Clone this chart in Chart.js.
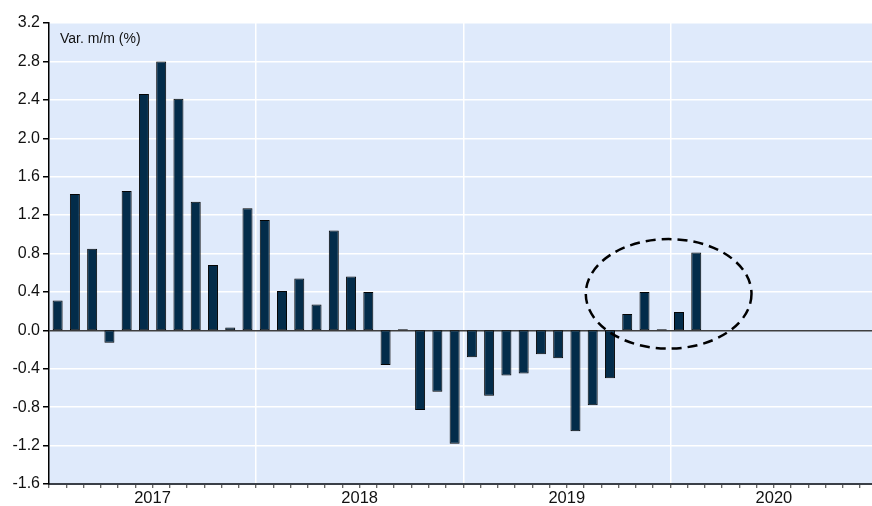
<!DOCTYPE html>
<html>
<head>
<meta charset="utf-8">
<script src="https://cdn.jsdelivr.net/npm/chart.js@4/dist/chart.umd.min.js"></script>
<style>
  html, body { margin: 0; padding: 0; background: #fff; overflow: hidden; }
  #wrap { width: 880px; height: 506px; position: relative; }
</style>
</head>
<body>
<div id="wrap"><canvas id="chart"></canvas></div>
<script>
// Données mensuelles : variation m/m (%)
const years = ['2017', '2018', '2019', '2020'];
const months = [];
years.forEach(y => {
    for (let m = 1; m <= 12; m++) months.push(y + '-' + String(m).padStart(2, '0'));
});

const values2017 = [0.31, 1.42, 0.85, -0.13, 1.45, 2.46, 2.80, 2.41, 1.34, 0.68, 0.03, 1.27];
const values2018 = [1.15, 0.41, 0.54, 0.27, 1.04, 0.56, 0.40, -0.36, 0.01, -0.83, -0.64, -1.18];
const values2019 = [-0.28, -0.68, -0.47, -0.45, -0.25, -0.29, -1.05, -0.78, -0.50, 0.17, 0.40, 0.01];
const values2020 = [0.19, 0.81, null, null, null, null, null, null, null, null, null, null];
const series = [].concat(values2017, values2018, values2019, values2020);

const yTicks = { min: -1.6, max: 3.2, step: 0.4 };
const axisLabel = 'Var. m/m (%)';

// Ellipse en pointillés (centre en index de mois / valeur, demi-axes)
const ellipse = { cx: 35.4, cy: 0.38, rx: 4.8, ry: 0.57 };

const FONT = '"Liberation Sans", Arial, sans-serif';

// Fond bleu clair de la zone de tracé
const bgPlugin = {
    id: 'plotBg',
    beforeDraw(chart) {
        const { ctx, chartArea: a } = chart;
        ctx.save();
        ctx.fillStyle = '#dfeafb';
        ctx.fillRect(a.left, a.top, a.right - a.left, a.bottom - a.top);
        ctx.restore();
    }
};

// Titre d'axe + ellipse
const notesPlugin = {
    id: 'notes',
    afterDatasetsDraw(chart) {
        const { ctx, chartArea: a, scales: { x, y } } = chart;
        ctx.save();
        ctx.fillStyle = '#111';
        ctx.font = '14px ' + FONT;
        ctx.textBaseline = 'alphabetic';
        ctx.fillText(axisLabel, a.left + 11, a.top + 20);

        const px = x.getPixelForValue(ellipse.cx);
        const py = y.getPixelForValue(ellipse.cy);
        const rx = x.getPixelForValue(ellipse.cx + ellipse.rx) - px;
        const ry = py - y.getPixelForValue(ellipse.cy + ellipse.ry);
        ctx.beginPath();
        ctx.ellipse(px, py, rx, ry, 0, 0, Math.PI * 2);
        ctx.setLineDash([10, 6]);
        ctx.lineWidth = 2.5;
        ctx.strokeStyle = '#000';
        ctx.stroke();
        ctx.restore();
    }
};

new Chart(document.getElementById('chart'), {
    type: 'bar',
    data: {
        labels: months,
        datasets: [{
            data: series,
            backgroundColor: '#032c4a',
            borderColor: '#050505',
            borderWidth: 1,
            borderSkipped: false,
            categoryPercentage: 1,
            barPercentage: 0.58
        }]
    },
    options: {
        responsive: true,
        maintainAspectRatio: false,
        animation: false,
        layout: { padding: { top: 23, right: 2.5, left: 0, bottom: 0 } },
        plugins: {
            legend: { display: false },
            tooltip: { enabled: false }
        },
        scales: {
            x: {
                type: 'category',
                offset: true,
                afterFit(scale) { scale.height = 22; },
                grid: {
                    offset: true,
                    drawOnChartArea: true,
                    color: c => (c.index > 0 && c.index % 12 === 0) ? '#ffffff' : 'rgba(0,0,0,0)',
                    lineWidth: 1.5,
                    tickColor: '#333',
                    tickLength: 4,
                    tickWidth: 1
                },
                border: { color: '#3a3f47', width: 2 },
                ticks: {
                    autoSkip: false,
                    maxRotation: 0,
                    minRotation: 0,
                    padding: 1,
                    labelOffset: 8.6,
                    color: '#111',
                    font: { family: FONT, size: 16.5 },
                    callback: (v, i) => (i % 12 === 5) ? years[Math.floor(i / 12)] : ''
                }
            },
            y: {
                min: yTicks.min,
                max: yTicks.max,
                afterFit(scale) { scale.width = 49; },
                grid: {
                    color: c => Math.abs(c.tick.value) < 1e-9 ? '#3f3f3f' : '#ffffff',
                    lineWidth: 1.5,
                    tickColor: '#000',
                    tickLength: 6
                },
                border: { color: '#000', width: 1.5 },
                ticks: {
                    stepSize: yTicks.step,
                    padding: 3,
                    color: '#111',
                    font: { family: FONT, size: 16 },
                    callback: v => Number(v).toFixed(1)
                }
            }
        }
    },
    plugins: [bgPlugin, notesPlugin]
});
</script>
</body>
</html>
